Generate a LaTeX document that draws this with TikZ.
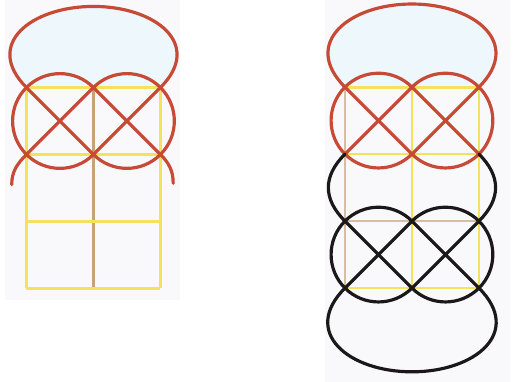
\documentclass[tikz,border=0pt]{standalone}
\usepackage{tikz}
\usetikzlibrary{positioning}
\definecolor{knotred}{RGB}{198,74,54}
\definecolor{knotblack}{RGB}{26,24,24}
\definecolor{gridyellow}{RGB}{244,226,92}
\definecolor{gridtan}{RGB}{198,162,120}
\definecolor{paper}{RGB}{249,249,251}
\definecolor{skywash}{RGB}{238,247,252}

\begin{document}
\begin{tikzpicture}[
		grid line/.style={line width=1.2pt, gridyellow},
		strand/.style={line width=1.35pt, line cap=round},
		top loop/.style={looseness=1.5}]
		\useasboundingbox (0,0) rectangle (7.687,-5.701);
		\fill[paper] (0.07,0) rectangle (2.69,-4.48);
		\fill[paper] (4.85,0) rectangle (7.61,-5.70);
		% left sheet: red only
		\begin{scope}[shift={(0.395,-1.306)}]
			\fill[skywash] (0,0) to[out=135,in=180,top loop] (1,1.21)
				to[out=0,in=45,top loop] (2,0) -- cycle;
			\foreach \x in {0,2} \draw[grid line] (\x,0) -- (\x,-3);
			\draw[grid line, gridtan] (1,0) -- (1,-3);
			\foreach \y in {0,...,3} \draw[grid line] (0,-\y) -- (2,-\y);
			\begin{scope}[strand, knotred, radius=0.707]
				\draw (0,0) to[out=135,in=180,top loop] (1,1.21) to[out=0,in=45,top loop] (2,0);
				\foreach \c in {0,1} {
					\draw (\c,0) arc[start angle=135, end angle=45];
					\draw (\c,-1) arc[start angle=225, end angle=315];
					\draw (\c,0) -- ({\c+1},-1) (\c,-1) -- ({\c+1},0);
				}
				\draw (0,0) arc[start angle=135, end angle=225];
				\draw (2,-1) arc[start angle=-45, end angle=45];
				\draw (0,-1) to[out=225,in=90] (-0.22,-1.45);
				\draw (2,-1) to[out=-45,in=90] (2.19,-1.43);
			\end{scope}
		\end{scope}
		% right sheet: red row on top, black row below
		\begin{scope}[shift={(5.149,-1.3)}]
			\fill[skywash] (0,0) to[out=135,in=180,top loop] (1,1.24)
				to[out=0,in=45,top loop] (2,0) -- cycle;
			\draw[grid line, gridtan!70] (0,0) -- (0,-3);
			\foreach \x in {1,2} \draw[grid line] (\x,0) -- (\x,-3);
			\foreach \y in {0,1,3} \draw[grid line] (0,-\y) -- (2,-\y);
			\draw[grid line, gridtan!70] (0,-2) -- (2,-2);
			\begin{scope}[strand, knotred, radius=0.707]
				\draw (0,0) to[out=135,in=180,top loop] (1,1.24) to[out=0,in=45,top loop] (2,0);
				\foreach \c in {0,1} {
					\draw (\c,0) arc[start angle=135, end angle=45];
					\draw (\c,-1) arc[start angle=225, end angle=315];
					\draw (\c,0) -- ({\c+1},-1) (\c,-1) -- ({\c+1},0);
				}
				\draw (0,0) arc[start angle=135, end angle=225];
				\draw (2,-1) arc[start angle=-45, end angle=45];
			\end{scope}
			\begin{scope}[strand, knotblack, radius=0.707]
				\draw (0,-1) to[out=225,in=135,looseness=1.2] (0,-2);
				\draw (2,-1) to[out=-45,in=45,looseness=1.2] (2,-2);
				\foreach \c in {0,1} {
					\draw (\c,-2) arc[start angle=135, end angle=45];
					\draw (\c,-3) arc[start angle=225, end angle=315];
					\draw (\c,-2) -- ({\c+1},-3) (\c,-3) -- ({\c+1},-2);
				}
				\draw (0,-2) arc[start angle=135, end angle=225];
				\draw (2,-3) arc[start angle=-45, end angle=45];
				\draw (0,-3) to[out=225,in=180,top loop] (1,-4.25) to[out=0,in=-45,top loop] (2,-3);
			\end{scope}
		\end{scope}
	\end{tikzpicture}
\end{document}
